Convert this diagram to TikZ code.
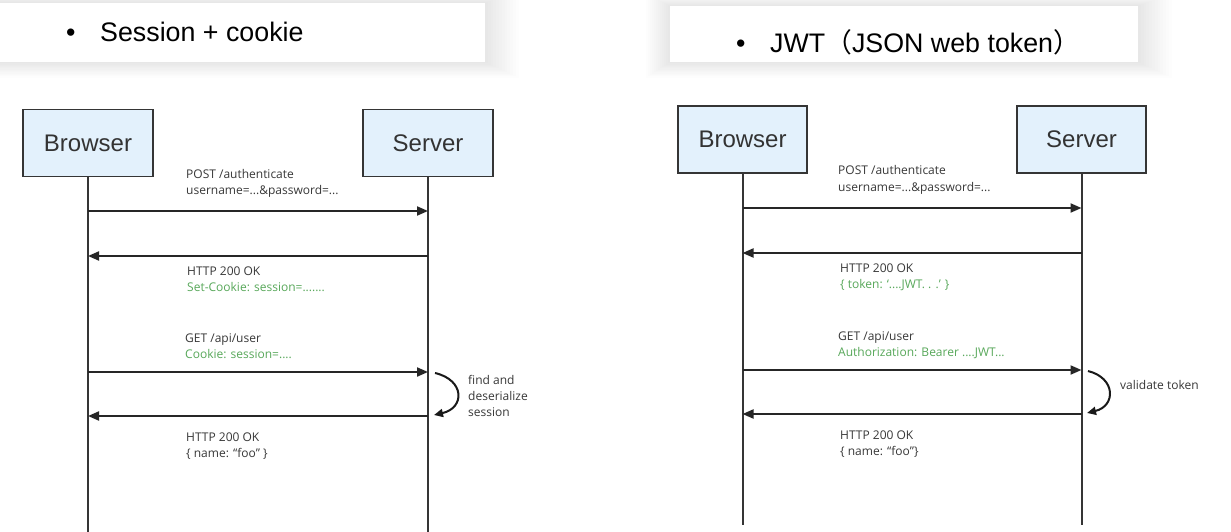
\documentclass[tikz,border=0pt]{standalone}
\usepackage{fontspec}
\setmainfont{Liberation Sans}
\newfontfamily\lblfont{Open Sans}
\newfontfamily\cjk{Noto Sans CJK SC}
\usetikzlibrary{arrows.meta}
\definecolor{boxfill}{HTML}{E3F1FC}
\definecolor{boxline}{HTML}{353535}
\definecolor{lbl}{HTML}{383838}
\definecolor{grn}{HTML}{58A85A}
\tikzset{
  x=1pt, y=-1pt,
  actor/.style={draw=boxline, line width=1.8pt, fill=boxfill, minimum width=130pt, minimum height=67pt, inner sep=0pt, font=\fontsize{24}{28}\selectfont, text=black!80},
  life/.style={draw=boxline, line width=2pt},
  msg/.style={draw=black!85, line width=2pt, -{Triangle[length=11pt,width=9pt]}},
  loopar/.style={draw=black!90, line width=2pt, -{Triangle[length=9pt,width=8pt]}},
  lab/.style={anchor=base west, inner sep=0pt, font=\lblfont\fontsize{12}{14}\selectfont, text=lbl},
  glab/.style={lab, text=grn},
  title/.style={anchor=base west, inner sep=0pt, font=\fontsize{26.8}{30}\selectfont, text=black},
}
\begin{document}
\begin{tikzpicture}
\useasboundingbox (0,0) rectangle (1231,532);
\fill[white] (0,0) rectangle (1231,532);
% soft shadows of title bars
\foreach \i in {1,...,12} {
  \fill[black, opacity=0.007] (-10,{3-\i}) rectangle ({485+2.8*\i},{62+1.3*\i});
  \fill[black, opacity=0.007] ({670-2*\i},{6-\i}) rectangle ({1138+2.8*\i},{62+1.3*\i});
}
\fill[white] (0,3) rectangle (485,62);
\fill[white] (670,6) rectangle (1138,62);
\node[title] (t1) at (100,42) {Session + cookie};
\node[title] (b1) at (66,42) {•};
\node[title] (t2) at (770,53) {JWT{\cjk （}JSON web token{\cjk ）}};
\node[title] (b2) at (736,53) {•};

% ---------- left panel ----------
\node[actor] (LB) at (88,143) {Browser};
\node[actor] (LS) at (428,143) {Server};
\coordinate (LBend) at (88,532);
\coordinate (LSend) at (428,532);
\draw[life] (LB.south) -- (LBend);
\draw[life] (LS.south) -- (LSend);
\coordinate (lb1) at (88,211); \coordinate (ls1) at (428,211);
\coordinate (lb2) at (88,256); \coordinate (ls2) at (428,256);
\coordinate (lb3) at (88,372); \coordinate (ls3) at (428,372);
\coordinate (lb4) at (88,416); \coordinate (ls4) at (428,416);
\draw[msg] (lb1) -- (ls1);
\draw[msg] (ls2) -- (lb2);
\draw[msg] (lb3) -- (ls3);
\draw[msg] (ls4) -- (lb4);
\coordinate (lc1) at (435,373); \coordinate (lc2) at (434,415);
\draw[loopar] (lc1) .. controls (465,380) and (465,408) .. (lc2);
\node[lab] (l1a) at (186,178) {POST /authenticate};
\node[lab] (l1b) at (186,194) {username=...\&password=...};
\node[lab] (l2a) at (187,275) {HTTP 200 OK};
\node[glab] (l2b) at (187,291) {Set-Cookie: session=.......};
\node[lab] (l3a) at (185,342) {GET /api/user};
\node[glab] (l3b) at (185,358) {Cookie: session=....};
\node[lab] (l4c) at (468,384) {find and};
\node[lab] (l4d) at (468,400) {deserialize};
\node[lab] (l4e) at (468,416) {session};
\node[lab] (l4a) at (186,441) {HTTP 200 OK};
\node[lab] (l4b) at (186,457) {\{ name: “foo” \}};

% ---------- right panel ----------
\node[actor, minimum width=129pt] (RB) at (742.5,139.5) {Browser};
\node[actor, minimum width=129pt] (RS) at (1081.5,139.5) {Server};
\coordinate (RBend) at (742.5,525);
\coordinate (RSend) at (1081.5,525);
\draw[life] (RB.south) -- (RBend);
\draw[life] (RS.south) -- (RSend);
\coordinate (rb1) at (742.5,208); \coordinate (rs1) at (1081.5,208);
\coordinate (rb2) at (742.5,253); \coordinate (rs2) at (1081.5,253);
\coordinate (rb3) at (742.5,370); \coordinate (rs3) at (1081.5,370);
\coordinate (rb4) at (742.5,414); \coordinate (rs4) at (1081.5,414);
\draw[msg] (rb1) -- (rs1);
\draw[msg] (rs2) -- (rb2);
\draw[msg] (rb3) -- (rs3);
\draw[msg] (rs4) -- (rb4);
\coordinate (rc1) at (1088,371); \coordinate (rc2) at (1087,413);
\draw[loopar] (rc1) .. controls (1116,378) and (1116,406) .. (rc2);
\node[lab] (r1a) at (838,175) {POST /authenticate};
\node[lab] (r1b) at (838,191) {username=...\&password=...};
\node[lab] (r2a) at (840,272) {HTTP 200 OK};
\node[glab] (r2b) at (840,288) {\{ token: ‘....JWT. . .’ \}};
\node[lab] (r3a) at (838,340) {GET /api/user};
\node[glab] (r3b) at (838,356) {Authorization: Bearer ....JWT...};
\node[lab] (r4c) at (1120,389) {validate token};
\node[lab] (r4a) at (840,439) {HTTP 200 OK};
\node[lab] (r4b) at (840,455) {\{ name: “foo”\}};
\end{tikzpicture}
\end{document}
